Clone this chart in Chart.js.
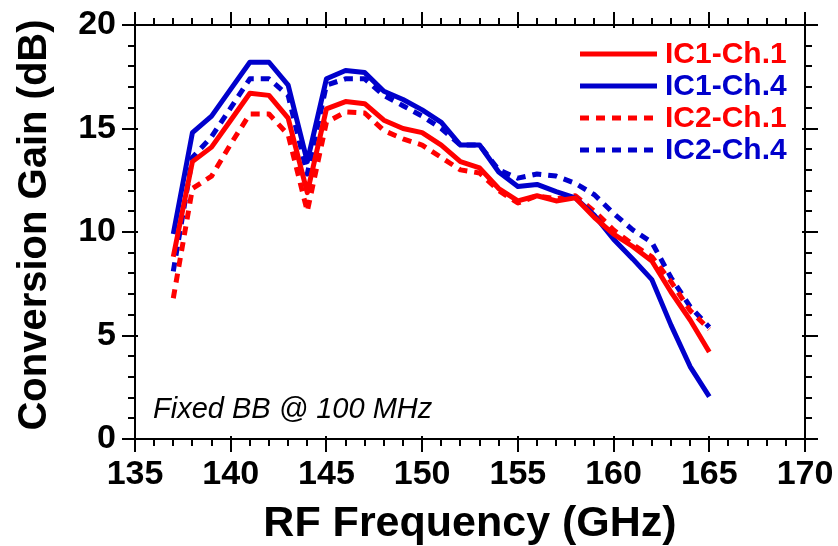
<!DOCTYPE html>
<html>
<head>
<meta charset="utf-8">
<script src="https://cdn.jsdelivr.net/npm/chart.js@4/dist/chart.umd.min.js"></script>
<style>
  html, body { margin: 0; padding: 0; background: #fff; }
  #wrap { width: 838px; height: 546px; }
</style>
</head>
<body>
<div id="wrap"><canvas id="c" width="838" height="546"></canvas></div>
<script>
// ---- data ----
const freqGHz = [137,138,139,140,141,142,143,144,145,146,147,148,149,150,151,152,153,154,155,156,157,158,159,160,161,162,163,164,165];
const ic1Ch1 = [8.8,13.4,14.1,15.4,16.7,16.6,15.5,11.9,15.95,16.3,16.2,15.4,15.0,14.8,14.2,13.4,13.1,12.1,11.5,11.75,11.5,11.65,10.7,9.9,9.3,8.6,7.1,5.75,4.2];
const ic1Ch4 = [9.9,14.8,15.6,16.9,18.2,18.2,17.1,13.4,17.4,17.8,17.7,16.8,16.4,15.9,15.3,14.2,14.2,12.9,12.2,12.3,11.95,11.65,10.8,9.65,8.7,7.7,5.5,3.5,2.05];
const ic2Ch1 = [6.8,12.1,12.7,14.25,15.7,15.7,14.7,11.0,15.3,15.8,15.75,14.9,14.5,14.2,13.6,13.0,12.85,12.0,11.4,11.75,11.6,11.75,11.0,10.1,9.4,8.8,7.6,6.2,5.3];
const ic2Ch4 = [8.1,13.6,14.6,16.0,17.4,17.4,16.6,12.8,17.1,17.4,17.4,16.6,16.1,15.6,15.0,14.2,14.2,13.0,12.6,12.8,12.7,12.35,11.8,10.9,10.1,9.5,7.8,6.4,5.4];
const seriesLabels = ['IC1-Ch.1','IC1-Ch.4','IC2-Ch.1','IC2-Ch.4'];
const xTitle = 'RF Frequency (GHz)';
const yTitle = 'Conversion Gain (dB)';
const note = 'Fixed BB @ 100 MHz';

const RED = '#ff0000', BLUE = '#0000cc';
const FONT = '"Liberation Sans", Arial, sans-serif';
const pts = arr => freqGHz.map((f, i) => ({x: f, y: arr[i]}));

function ds(label, arr, color, dashed) {
  return {
    label, data: pts(arr), borderColor: color, backgroundColor: color,
    borderWidth: 5, borderDash: dashed ? [9, 7] : [], borderJoinStyle: 'round',
    pointRadius: 0, tension: 0, fill: false
  };
}

const frameTicks = {
  id: 'frameTicks',
  afterDraw(chart) {
    const ctx = chart.ctx;
    const {left, right, top, bottom} = chart.chartArea;
    const xs = chart.scales.x, ys = chart.scales.y;
    ctx.save();
    ctx.strokeStyle = '#000';
    ctx.lineWidth = 2;
    ctx.lineCap = 'butt';
    ctx.beginPath();
    ctx.rect(left, top, right - left, bottom - top);
    ctx.stroke();
    ctx.beginPath();
    for (let v = xs.min; v <= xs.max; v++) {
      const p = Math.round(xs.getPixelForValue(v));
      const major = v % 5 === 0;
      const len = major ? 13 : 7, inn = major ? 3 : 0;
      ctx.moveTo(p, bottom - inn); ctx.lineTo(p, bottom + len);
      ctx.moveTo(p, top + inn); ctx.lineTo(p, top - len);
    }
    for (let v = ys.min; v <= ys.max; v++) {
      const p = Math.round(ys.getPixelForValue(v));
      const major = v % 5 === 0;
      const len = major ? 13 : 7, inn = major ? 3 : 0;
      ctx.moveTo(left + inn, p); ctx.lineTo(left - len, p);
      ctx.moveTo(right - inn, p); ctx.lineTo(right + len, p);
    }
    ctx.stroke();

    // y axis title
    ctx.fillStyle = '#000';
    ctx.font = 'bold 40px ' + FONT;
    ctx.textAlign = 'center';
    ctx.textBaseline = 'middle';
    ctx.save();
    ctx.translate(35, 225);
    ctx.rotate(-Math.PI / 2);
    ctx.fillText(yTitle, 0, 0);
    ctx.restore();

    // annotation
    ctx.font = 'italic 29px ' + FONT;
    ctx.textAlign = 'left';
    ctx.textBaseline = 'alphabetic';
    ctx.fillText(note, 153, 418);

    // legend
    const x0 = 580, x1 = 657, tx = 665, y0 = 54, dy = 32;
    ctx.font = 'bold 30px ' + FONT;
    ctx.textBaseline = 'middle';
    chart.data.datasets.forEach((d, i) => {
      const y = y0 + i * dy;
      ctx.strokeStyle = d.borderColor;
      ctx.lineWidth = d.borderWidth;
      ctx.setLineDash(d.borderDash || []);
      ctx.beginPath(); ctx.moveTo(x0, y); ctx.lineTo(x1, y); ctx.stroke();
      ctx.setLineDash([]);
      ctx.fillStyle = d.borderColor;
      ctx.fillText(d.label, tx, y + 1);
    });
    ctx.restore();
  }
};

new Chart(document.getElementById('c'), {
  type: 'line',
  data: {
    datasets: [
      ds(seriesLabels[0], ic1Ch1, RED, false),
      ds(seriesLabels[1], ic1Ch4, BLUE, false),
      ds(seriesLabels[2], ic2Ch1, RED, true),
      ds(seriesLabels[3], ic2Ch4, BLUE, true)
    ]
  },
  options: {
    responsive: false,
    animation: false,
    devicePixelRatio: 1,
    layout: { padding: { left: 0, right: 33, top: 25, bottom: 0 } },
    plugins: { legend: { display: false }, tooltip: { enabled: false } },
    scales: {
      x: {
        type: 'linear', min: 135, max: 170,
        ticks: { stepSize: 5, color: '#000', padding: 0, maxRotation: 0,
                 font: { family: FONT, size: 34, weight: 'bold' } },
        grid: { display: false, drawTicks: true, tickLength: 15 },
        border: { display: false },
        title: { display: true, text: xTitle, color: '#000', padding: { top: 0, bottom: -4 },
                 font: { family: FONT, size: 43, weight: 'bold' } },
        afterFit(s) { s.height = 107; }
      },
      y: {
        type: 'linear', min: 0, max: 20,
        ticks: { stepSize: 5, color: '#000', padding: 0,
                 font: { family: FONT, size: 34, weight: 'bold' } },
        grid: { display: false, drawTicks: true, tickLength: 19 },
        border: { display: false },
        title: { display: false },
        afterFit(s) { s.width = 135; }
      }
    }
  },
  plugins: [frameTicks]
});
</script>
</body>
</html>
